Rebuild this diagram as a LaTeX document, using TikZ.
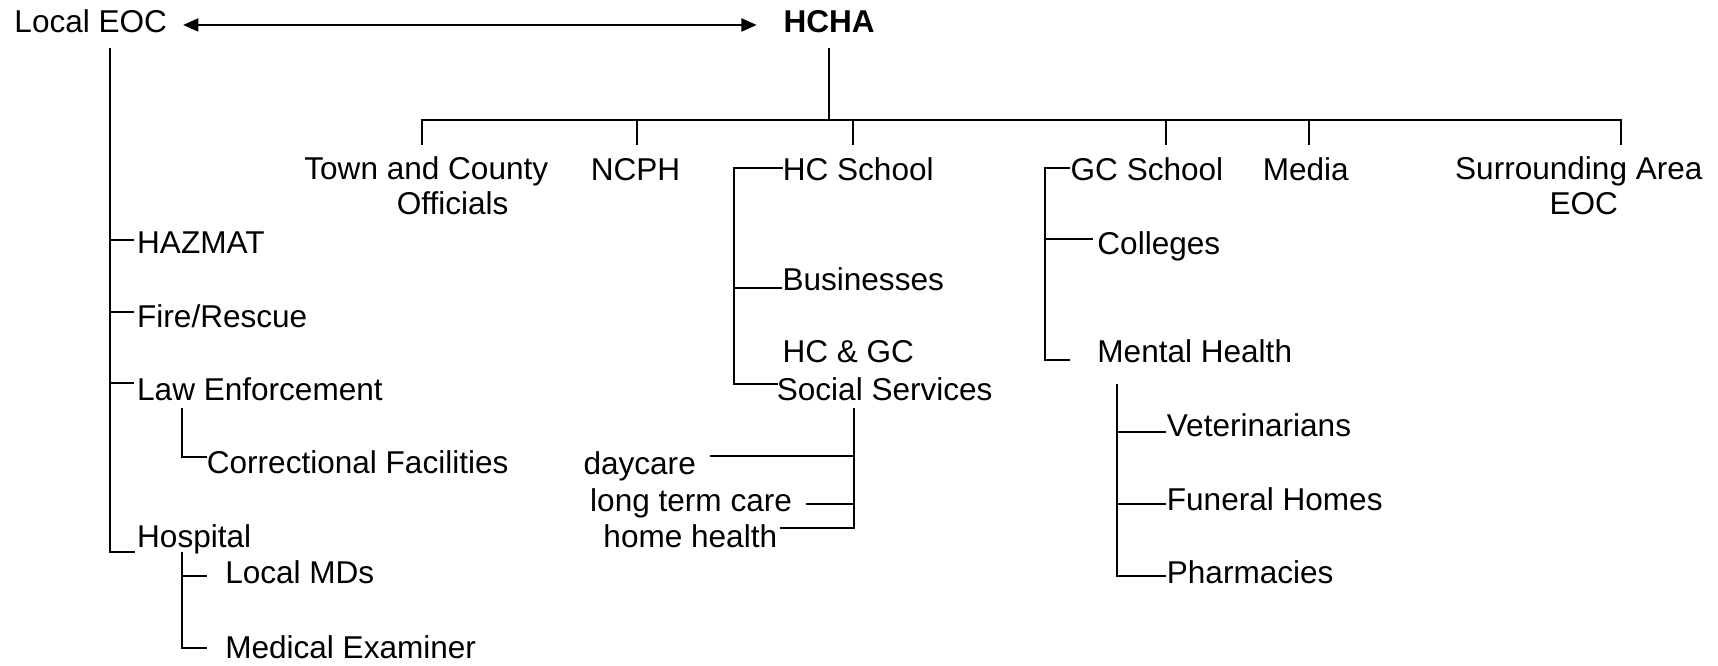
\documentclass[tikz,border=0pt]{standalone}
\usepackage{fontspec}
\setmainfont{Liberation Sans}
\usetikzlibrary{arrows.meta}
\begin{document}
\begin{tikzpicture}[x=1pt,y=-1pt,
  lbl/.style={inner sep=0pt, anchor=base west, font=\fontsize{28.8pt}{32pt}\selectfont},
  link/.style={line width=1.7pt},
  twoway/.style={link, {Triangle[length=14pt,width=12pt]}-{Triangle[length=14pt,width=12pt]}}]
\useasboundingbox (0,0) rectangle (1568,607);

% ---- labels (two-line labels are placed by the baseline of their last line) ----
\node[lbl] (eoc) at (13,29.5) {Local EOC};
\node[lbl, font=\fontsize{28.8pt}{32pt}\selectfont\bfseries] (hcha) at (715,29.5) {HCHA};

\node[lbl, align=center] (town) at (277.6,196.2) {Town and County\\\hspace*{48pt}Officials};
\node[lbl] (ncph) at (539,164.3) {NCPH};
\node[lbl] (hcs) at (714.3,164.3) {HC School};
\node[lbl] (gcs) at (977,164.3) {GC School};
\node[lbl] (media) at (1152.3,164.3) {Media};
\node[lbl, align=center, anchor=base] (sur) at (1441,196.2) {Surrounding Area\\\hspace*{9pt}EOC};

\node[lbl] (hazmat) at (125,231.2) {HAZMAT};
\node[lbl] (fire) at (125,299) {Fire/Rescue};
\node[lbl] (law) at (125,365.1) {Law Enforcement};
\node[lbl] (corr) at (188.6,432.6) {Correctional Facilities};
\node[lbl] (hosp) at (125,499.5) {Hospital};
\node[lbl] (mds) at (205.4,533) {Local MDs};
\node[lbl] (medex) at (205.4,600.8) {Medical Examiner};

\node[lbl] (bus) at (714,265.3) {Businesses};
\node[lbl, align=left] (social) at (708.8,365.1) {\hspace*{5.2pt}HC \& GC\\[2pt]Social Services};
\node[lbl] (day) at (532.4,432.9) {daycare};
\node[lbl] (ltc) at (538.5,466.4) {long term care};
\node[lbl] (hh) at (550.6,499.5) {home health};

\node[lbl] (col) at (1001.4,232.1) {Colleges};
\node[lbl] (mh) at (1001.4,331) {Mental Health};
\node[lbl] (vets) at (1064.8,398.5) {Veterinarians};
\node[lbl] (fun) at (1064.8,466) {Funeral Homes};
\node[lbl] (pharm) at (1064.8,532.4) {Pharmacies};

% ---- top link ----
\draw[twoway] ([xshift=14.5pt,yshift=6.7pt]eoc.base east) -- ([xshift=-24.4pt,yshift=6.7pt]hcha.base west);

% ---- tick ends beside each label ----
\coordinate (hazmatT) at ([xshift=-2.8pt,yshift=12.2pt]hazmat.base west);
\coordinate (fireT) at ([xshift=-2.8pt,yshift=14pt]fire.base west);
\coordinate (lawT) at ([xshift=-2.8pt,yshift=15.3pt]law.base west);
\coordinate (hospT) at ([xshift=-2.1pt,yshift=-4pt]hosp.base west);
\coordinate (corrT) at ([yshift=15.8pt]corr.base west);
\coordinate (mdsT) at ([xshift=-16.8pt,yshift=7.3pt]mds.base west);
\coordinate (medexT) at ([xshift=-16.8pt,yshift=9.1pt]medex.base west);
\coordinate (hcsT) at ([yshift=10.7pt]hcs.base west);
\coordinate (busT) at ([xshift=-0.6pt,yshift=2.1pt]bus.base west);
\coordinate (socialT) at ([xshift=1.2pt,yshift=14.3pt]social.base west);
\coordinate (dayT) at ([xshift=12.6pt,yshift=16.7pt]day.base east);
\coordinate (ltcT) at ([xshift=12.2pt,yshift=6.1pt]ltc.base east);
\coordinate (hhT) at ([xshift=2.8pt,yshift=17.9pt]hh.base east);
\coordinate (gcsT) at ([xshift=-0.5pt,yshift=10.7pt]gcs.base west);
\coordinate (colT) at ([xshift=-3.6pt,yshift=13.7pt]col.base west);
\coordinate (mhT) at ([xshift=-24.9pt,yshift=2.4pt]mh.base west);
\coordinate (vetsT) at ([xshift=-0.9pt,yshift=3.9pt]vets.base west);
\coordinate (funT) at ([xshift=-0.9pt,yshift=5.7pt]fun.base west);
\coordinate (pharmT) at ([xshift=-0.9pt,yshift=7pt]pharm.base west);

% ---- Local EOC branch ----
\coordinate (eocTop) at (100.2,44.1);
\draw[link] (eocTop) |- (hospT);
\foreach \t in {hazmatT,fireT,lawT} \draw[link] (\t -| eocTop) -- (\t);
\coordinate (lawSub) at (165.9,372.7);
\draw[link] (lawSub) |- (corrT);
\coordinate (hospSub) at (165.9,503.5);
\draw[link] (hospSub) |- (medexT);
\draw[link] (mdsT -| hospSub) -- (mdsT);

% ---- HCHA branch ----
\coordinate (hchaTop) at (757,44.1);
\coordinate (barY) at (0,109.5);
\coordinate (townD) at (385,132.3);
\coordinate (ncphD) at (581.5,132.3);
\coordinate (hcsD) at (778.2,132.3);
\coordinate (gcsD) at (1064.1,132.3);
\coordinate (mediaD) at (1195,132.3);
\coordinate (surD) at (1479.8,132.3);
\draw[link] (hchaTop) -- (hchaTop |- barY);
\draw[link] (townD) |- (surD |- barY) -- (surD);
\foreach \d in {ncphD,hcsD,gcsD,mediaD} \draw[link] (\d |- barY) -- (\d);

% HC School group
\coordinate (hcx) at (669.6,153.6);
\draw[link] (hcsT) -- (hcsT -| hcx) |- (socialT);
\draw[link] (busT -| hcx) -- (busT);
\coordinate (socSub) at (779.1,372.7);
\draw[link] (socSub) |- (hhT);
\draw[link] (dayT -| socSub) -- (dayT);
\draw[link] (ltcT -| socSub) -- (ltcT);

% GC School group
\coordinate (gcx) at (954,153.6);
\draw[link] (gcsT) -- (gcsT -| gcx) |- (mhT);
\draw[link] (colT -| gcx) -- (colT);
\coordinate (mhSub) at (1019.7,350.8);
\draw[link] (mhSub) |- (pharmT);
\draw[link] (vetsT -| mhSub) -- (vetsT);
\draw[link] (funT -| mhSub) -- (funT);
\end{tikzpicture}
\end{document}
